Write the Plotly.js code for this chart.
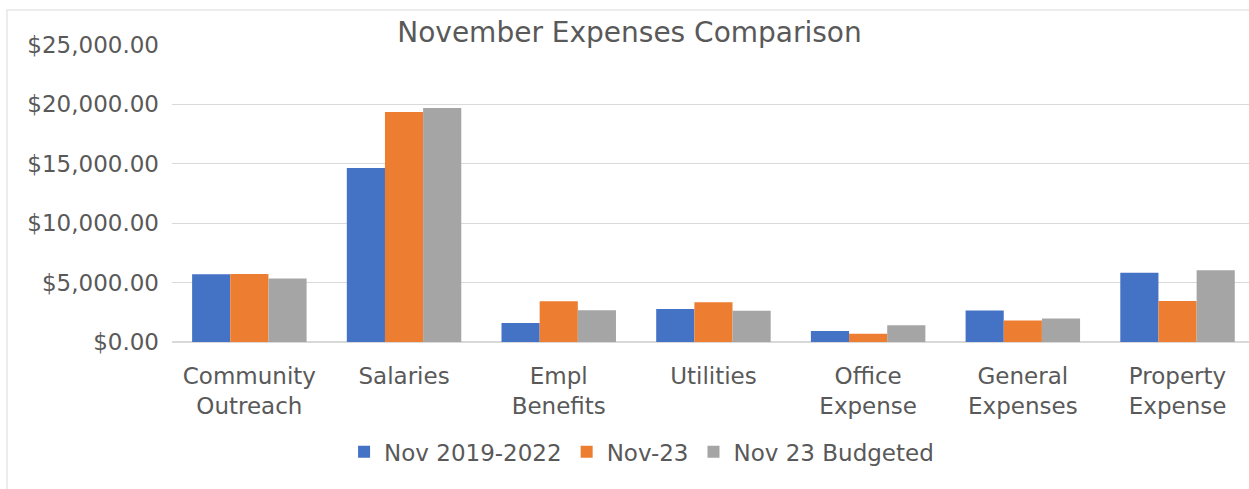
<!DOCTYPE html>
<html>
<head>
<meta charset="utf-8">
<script src="https://cdn.plot.ly/plotly-3.0.1.min.js"></script>
<style>html,body{margin:0;padding:0;background:#fff;}#chart{width:1249px;height:489px;}</style>
</head>
<body>
<div id="chart"></div>
<script>
const categories = ["Community<br>Outreach", "Salaries", "Empl<br>Benefits", "Utilities", "Office<br>Expense", "General<br>Expenses", "Property<br>Expense"];
const seriesNames = ["Nov 2019-2022", "Nov-23", "Nov 23 Budgeted"];
const nov2019_2022 = [5700, 14650, 1600, 2780, 930, 2650, 5820];
const nov23 = [5720, 19360, 3430, 3340, 700, 1800, 3450];
const nov23Budgeted = [5340, 19700, 2670, 2640, 1420, 1970, 6040];
const yTicks = [0, 5000, 10000, 15000, 20000, 25000];
const yTickLabels = ["$0.00", "$5,000.00", "$10,000.00", "$15,000.00", "$20,000.00", "$25,000.00"];
const colors = ["#4472C4", "#ED7D31", "#A5A5A5"];

const FONT = "DejaVu Sans, Open Sans, sans-serif";
const TEXT = "#595959";
const xIdx = categories.map((c, i) => i);
const allSeries = [nov2019_2022, nov23, nov23Budgeted];
const traces = allSeries.map((vals, k) => ({
  type: "bar",
  name: seriesNames[k],
  x: xIdx,
  y: vals,
  marker: {color: colors[k]},
  hoverinfo: "none"
}));

const layout = {
  width: 1249, height: 489,
  margin: {l: 172, r: 0, t: 45, b: 147.3, pad: 0},
  paper_bgcolor: "#fff", plot_bgcolor: "#fff",
  barmode: "group",
  bargap: 0.26,
  bargroupgap: 0,
  title: {text: "November Expenses Comparison", font: {family: FONT, size: 28, color: TEXT}, x: 0.504, xanchor: "center", y: 0.935, yanchor: "middle"},
  font: {family: FONT, color: TEXT},
  xaxis: {
    tickmode: "array", tickvals: xIdx, ticktext: categories,
    range: [-0.5, 6.462],
    showgrid: false, zeroline: false, showline: false, ticks: "",
    ticklabelstandoff: 18,
    tickfont: {family: FONT, size: 23, color: TEXT},
    fixedrange: true
  },
  yaxis: {
    range: [0, 25000],
    tickmode: "array", tickvals: yTicks, ticktext: yTickLabels,
    showgrid: true, gridcolor: "#D9D9D9", gridwidth: 1.3,
    zeroline: true, zerolinecolor: "#D9D9D9", zerolinewidth: 1.3,
    showline: false, ticks: "", ticklabelstandoff: 12,
    tickfont: {family: FONT, size: 23, color: TEXT},
    fixedrange: true
  },
  legend: {
    orientation: "h", x: 0.436, xanchor: "center", y: -0.37, yanchor: "middle",
    font: {family: FONT, size: 23, color: TEXT},
    traceorder: "normal", itemwidth: 20
  },
  showlegend: true,
  shapes: [{
    type: "rect", xref: "paper", yref: "paper",
    x0: (7 - 172) / 1077, x1: 1.05, y0: -0.6, y1: 1 + (45 - 10) / 296.7,
    line: {color: "#E6E6E6", width: 1.5}, fillcolor: "rgba(0,0,0,0)", layer: "below"
  }]
};

Plotly.newPlot("chart", traces, layout, {displayModeBar: false, staticPlot: true});
</script>
</body>
</html>
